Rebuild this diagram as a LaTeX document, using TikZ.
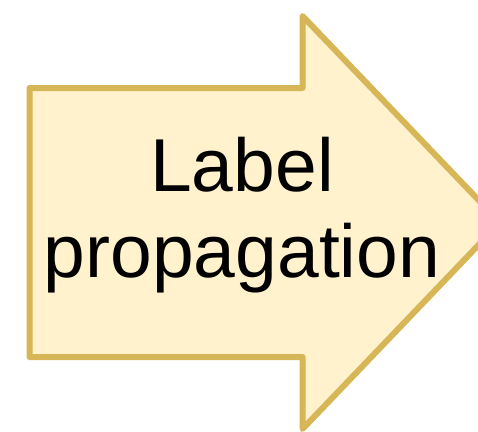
\documentclass[tikz,border=0pt]{standalone}
\usepackage{fontspec}
\setmainfont{Liberation Sans}
\definecolor{arrowfill}{HTML}{FFF2CC}
\definecolor{arrowline}{HTML}{D6B656}
\tikzset{
  bigarrow/.style={draw=arrowline, fill=arrowfill, line width=6pt, line join=round},
  arrowtext/.style={inner sep=0pt, align=center, font=\fontsize{75}{86}\selectfont}
}
\begin{document}
\begin{tikzpicture}[x=1pt, y=-1pt]
  \useasboundingbox (0,0) rectangle (478,431);
  % arrow body and head
  \draw[bigarrow] (29.5,88) -- (302.5,88) -- (302.5,16) -- (500,222.5)
    -- (302.5,429) -- (302.5,357) -- (29.5,357) -- cycle;
  \node[arrowtext] (label) at (242,215) {Label\\propagation};
\end{tikzpicture}
\end{document}
